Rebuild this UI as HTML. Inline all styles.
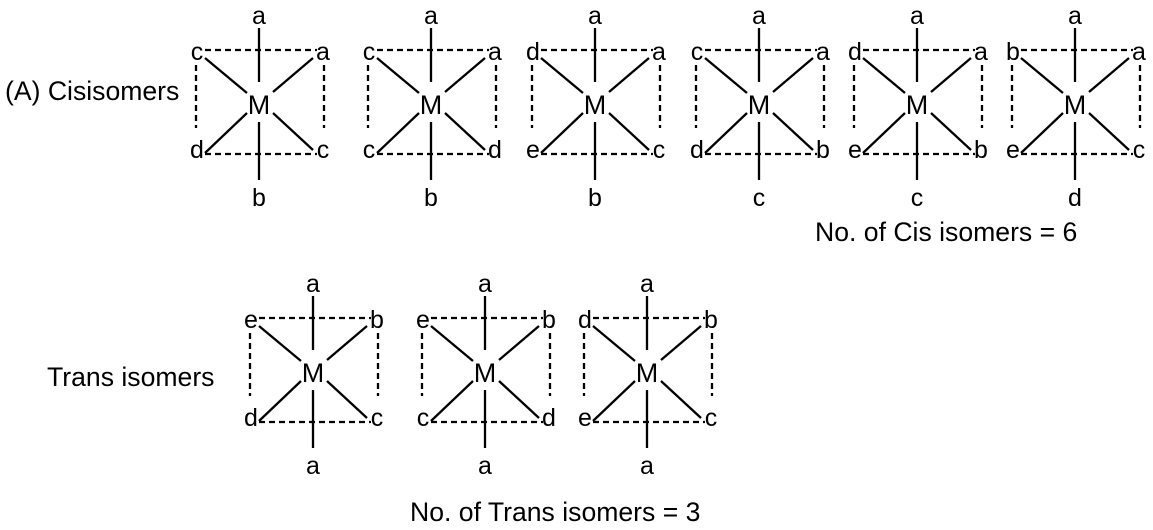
<!DOCTYPE html>
<html><head><meta charset="utf-8"><style>
html,body{margin:0;padding:0;background:#fff;}
svg{display:block;}
</style></head><body>
<svg width="1153" height="530" viewBox="0 0 1153 530" xmlns="http://www.w3.org/2000/svg" font-family="Liberation Sans, Arial, sans-serif" font-size="26" fill="#000">
<defs>
<g id="s" stroke="#000" stroke-width="2.3" fill="none">
<line x1="0" y1="-76" x2="0" y2="-22"/>
<line x1="0" y1="18" x2="0" y2="76"/>
<line x1="-54" y1="-54" x2="58" y2="-54" stroke-dasharray="6,4"/>
<line x1="-54" y1="50" x2="58" y2="50" stroke-dasharray="6,4"/>
<line x1="-63" y1="-39" x2="-63" y2="24" stroke-dasharray="6,4"/>
<line x1="65" y1="-39" x2="65" y2="24" stroke-dasharray="6,4"/>
<line x1="-54" y1="-46" x2="-12" y2="-11"/>
<line x1="54" y1="-46" x2="14" y2="-12"/>
<line x1="-54" y1="49" x2="-12" y2="9"/>
<line x1="54" y1="46" x2="14" y2="9"/>
</g>
</defs>
<g text-anchor="middle" font-size="25">
<g transform="translate(259,104)"><use href="#s"/><text x="0" y="-80">a</text><text x="0" y="10" font-size="27">M</text><text x="-62" y="-44">c</text><text x="64" y="-44">a</text><text x="-62" y="54">d</text><text x="64" y="54">c</text><text x="0" y="102">b</text></g>
<g transform="translate(431,104)"><use href="#s"/><text x="0" y="-80">a</text><text x="0" y="10" font-size="27">M</text><text x="-62" y="-44">c</text><text x="64" y="-44">a</text><text x="-62" y="54">c</text><text x="64" y="54">d</text><text x="0" y="102">b</text></g>
<g transform="translate(595,104)"><use href="#s"/><text x="0" y="-80">a</text><text x="0" y="10" font-size="27">M</text><text x="-62" y="-44">d</text><text x="64" y="-44">a</text><text x="-62" y="54">e</text><text x="64" y="54">c</text><text x="0" y="102">b</text></g>
<g transform="translate(759,104)"><use href="#s"/><text x="0" y="-80">a</text><text x="0" y="10" font-size="27">M</text><text x="-62" y="-44">c</text><text x="64" y="-44">a</text><text x="-62" y="54">d</text><text x="64" y="54">b</text><text x="0" y="102">c</text></g>
<g transform="translate(917,104)"><use href="#s"/><text x="0" y="-80">a</text><text x="0" y="10" font-size="27">M</text><text x="-62" y="-44">d</text><text x="64" y="-44">a</text><text x="-62" y="54">e</text><text x="64" y="54">b</text><text x="0" y="102">c</text></g>
<g transform="translate(1075,104)"><use href="#s"/><text x="0" y="-80">a</text><text x="0" y="10" font-size="27">M</text><text x="-62" y="-44">b</text><text x="64" y="-44">a</text><text x="-62" y="54">e</text><text x="64" y="54">c</text><text x="0" y="102">d</text></g>
<g transform="translate(313,372)"><use href="#s"/><text x="0" y="-80">a</text><text x="0" y="10" font-size="27">M</text><text x="-62" y="-44">e</text><text x="64" y="-44">b</text><text x="-62" y="54">d</text><text x="64" y="54">c</text><text x="0" y="102">a</text></g>
<g transform="translate(485,372)"><use href="#s"/><text x="0" y="-80">a</text><text x="0" y="10" font-size="27">M</text><text x="-62" y="-44">e</text><text x="64" y="-44">b</text><text x="-62" y="54">c</text><text x="64" y="54">d</text><text x="0" y="102">a</text></g>
<g transform="translate(647,372)"><use href="#s"/><text x="0" y="-80">a</text><text x="0" y="10" font-size="27">M</text><text x="-62" y="-44">d</text><text x="64" y="-44">b</text><text x="-62" y="54">e</text><text x="64" y="54">c</text><text x="0" y="102">a</text></g>
</g>
<g font-size="26.6">
<text x="5" y="100">(A) Cisisomers</text>
<text x="815" y="241">No. of Cis isomers = 6</text>
<text x="47" y="386">Trans isomers</text>
<text x="410" y="521">No. of Trans isomers = 3</text>
</g>
</svg>
</body></html>
